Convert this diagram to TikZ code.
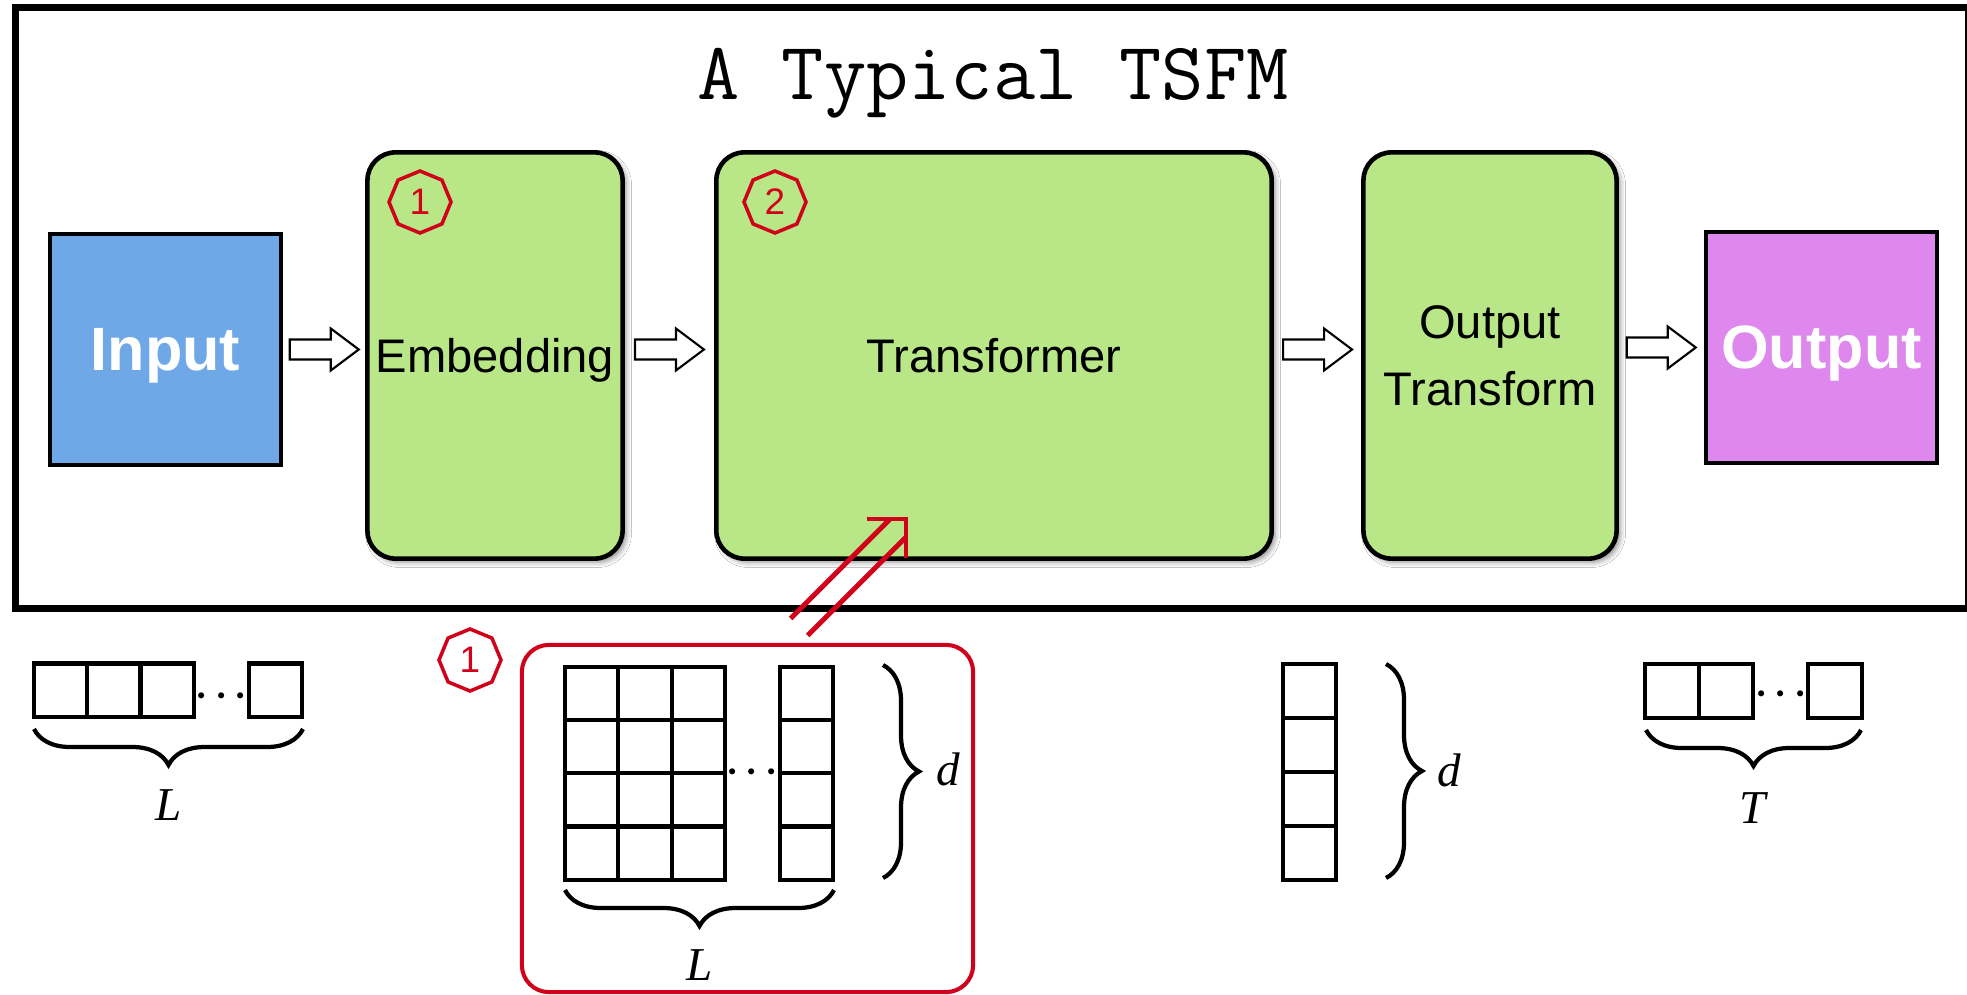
\documentclass[tikz,border=0pt]{standalone}
\usepackage{fontspec}
\setsansfont{Liberation Sans}
\newfontfamily\labelserif{Liberation Serif}
\usetikzlibrary{calc,shadows.blur,decorations.pathreplacing}

\definecolor{inblue}{RGB}{111,168,230}
\definecolor{stagegreen}{RGB}{185,230,135}
\definecolor{outpurple}{RGB}{222,135,236}
\definecolor{markred}{RGB}{208,2,27}

% white block arrow centred on a coordinate, pointing right
\newcommand\tsfmarrow[1]{%
  \draw[blockarr] ($(#1)+(-34.5,-10)$) -- ($(#1)+(6.5,-10)$) -- ($(#1)+(6.5,-21)$)
    -- ($(#1)+(34.5,0)$) -- ($(#1)+(6.5,21)$) -- ($(#1)+(6.5,10)$)
    -- ($(#1)+(-34.5,10)$) -- cycle;}

% red octagon marker with a number inside
\newcommand\octbadge[3]{%
  \node[badgenum] (#1) at (#2) {#3};
  \draw[badgeline] ($(#1.center)+(0:31)$)
    \foreach \a in {45,90,...,315}{ -- ($(#1.center)+(\a:31)$)} -- cycle;}

\begin{document}
\begin{tikzpicture}[x=0.01cm, y=-0.01cm,
  io/.style={draw=black, line width=1.3pt, text=white,
    font=\sffamily\bfseries\fontsize{17.4}{20}\selectfont,
    minimum width=2.31cm, minimum height=2.31cm, inner sep=0pt, text depth=0pt},
  stage/.style={draw=black, fill=stagegreen, line width=1.3pt, rounded corners=0.28cm,
    minimum height=4.06cm, inner sep=0pt, align=center,
    font=\sffamily\fontsize{13.4}{19}\selectfont,
    blur shadow={shadow xshift=1pt, shadow yshift=-1pt, shadow blur radius=1.5pt, shadow opacity=45}},
  blockarr/.style={draw=black, fill=white, line width=0.6pt, line join=miter},
  badgenum/.style={text=markred, font=\sffamily\fontsize{10.5}{12}\selectfont, inner sep=0pt},
  badgeline/.style={draw=markred, line width=1pt, line join=miter},
  cellbox/.style={draw=black, line width=1.2pt},
  brace/.style={draw=black, line width=1.2pt, decorate, decoration={brace, amplitude=0.36cm}},
  dimlabel/.style={font=\labelserif\itshape\fontsize{13.4}{16}\selectfont, anchor=base, inner sep=0pt},
  dotsnode/.style={font=\fontsize{10.5}{12}\selectfont\boldmath, anchor=base, inner sep=0pt},
  redline/.style={draw=markred, line width=1.4pt},
]
\fill[white] (0,0) rectangle (1967,994);
\useasboundingbox (0,0) rectangle (1967,994);

% model frame
\draw[line width=2.13pt] (15.5,7.5) rectangle (1969,608.5);
\node[font=\ttfamily\fontsize{23.3}{28}\selectfont, anchor=base] (title) at (993,100) {A Typical TSFM};

% pipeline
\node[io, fill=inblue] (in) at (165.5,349.5) {Input};
\node[stage, minimum width=2.55cm, text depth=0pt] (emb) at (495,355.5) {Embedding};
\node[stage, minimum width=5.55cm, text depth=0pt] (tr) at (994,355.5) {Transformer};
\node[stage, minimum width=2.53cm] (ot) at (1490,355.5) {Output\\Transform};
\node[io, fill=outpurple] (out) at (1821.5,347.5) {Output};

\coordinate (a1) at ($(in.east)!0.5!(emb.west |- in.east)$);
\coordinate (a2) at ($(emb.east |- in.east)!0.5!(tr.west |- in.east)$);
\coordinate (a3) at ($(tr.east |- in.east)!0.5!(ot.west |- in.east)$);
\coordinate (a4) at ($(ot.east |- out.west)!0.5!(out.west)$);
\tsfmarrow{a1}
\tsfmarrow{a2}
\tsfmarrow{a3}
\tsfmarrow{a4}

\octbadge{bemb}{420,202}{1}
\octbadge{btr}{775,202}{2}

% input series of length L
\foreach \i in {0,1,2} \draw[cellbox] ({34+53.3*\i},663.5) rectangle ++(53.3,53.3);
\draw[cellbox] (249,663.5) rectangle ++(53.3,53.3);
\node[dotsnode] (dotsin) at (221.5,705) {$\cdots$};
\draw[brace] (303,729) -- (34,729);
\node[dimlabel] (lin) at (169,820) {L};

% embedded tokens: d x L
\octbadge{bdet}{470,660}{1}
\node[draw=markred, line width=1.15pt, rounded corners=0.27cm, minimum width=4.51cm,
  minimum height=3.47cm, inner sep=0pt] (detail) at (747.5,818.5) {};
\foreach \i in {0,1,2} \foreach \j in {0,...,3}
  \draw[cellbox] ({565+53.3*\i},{666.7+53.3*\j}) rectangle ++(53.3,53.3);
\foreach \j in {0,...,3} \draw[cellbox] (780,{666.7+53.3*\j}) rectangle ++(53.3,53.3);
\node[dotsnode] (dotsemb) at (752,781.5) {$\cdots$};
\draw[brace] (883,665) -- (883,878);
\node[dimlabel] (demb) at (948,785) {d};
\draw[brace] (834,890) -- (565,890);
\node[dimlabel] (lemb) at (700,980) {L};

% single hidden vector of size d
\foreach \j in {0,...,3} \draw[cellbox] (1283,{664+54*\j}) rectangle ++(53.3,54);
\draw[brace] (1386,664) -- (1386,878);
\node[dimlabel] (dvec) at (1449,786) {d};

% forecast of length T
\foreach \i in {0,1} \draw[cellbox] ({1645+54*\i},664) rectangle ++(54,54);
\draw[cellbox] (1808,664) rectangle ++(54,54);
\node[dotsnode] (dotsout) at (1781,703.5) {$\cdots$};
\draw[brace] (1861,730) -- (1646,730);
\node[dimlabel] (tout) at (1753,823) {T};

% double arrow from the token matrix into the transformer
\coordinate (rtip) at (906,519);
\coordinate (rtail) at (799,627);
\draw[redline] ($(rtail)+(-8.5,-8.5)$) -- ($(rtip)+(-16,0)$);
\draw[redline] ($(rtail)+(8.5,8.5)$) -- ($(rtip)+(0,18)$);
\draw[redline, line join=miter] ($(rtip)+(-39,0)$) -- (rtip) -- ($(rtip)+(0,39)$);
\end{tikzpicture}
\end{document}
